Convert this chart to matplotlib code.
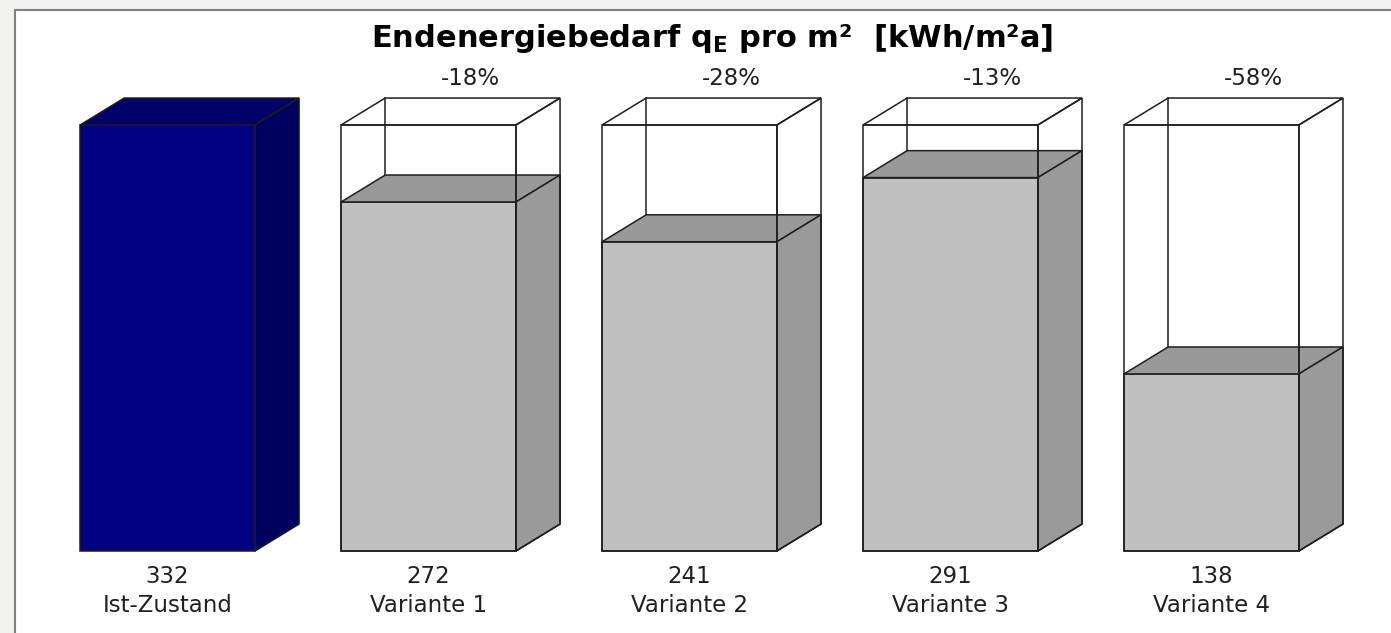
import matplotlib.pyplot as plt
from matplotlib.patches import Polygon, Rectangle

# Endenergiebedarf per variant [kWh/m²a]
categories = ['Ist-Zustand', 'Variante 1', 'Variante 2', 'Variante 3', 'Variante 4']
values = [332, 272, 241, 291, 138]
changes = ['', '-18%', '-28%', '-13%', '-58%']
reference = values[0]

BAR_W = 0.67
DX, DY = 0.169, 21.0   # pseudo-3D depth offset
EDGE = '#1e1e1e'

fig = plt.figure(figsize=(13.91, 6.33), dpi=100, facecolor='#f0f0ec')
fig.patches.append(Rectangle((15 / 1391, -0.1), 1.2, 1.1 - 10 / 633,
                             transform=fig.transFigure, facecolor='white',
                             edgecolor='#808080', lw=1.5, zorder=-1))

ax = fig.add_axes([0, 0, 1, 1])
ax.set_facecolor('none')
ax.set_xlim(-0.642, 4.688)
ax.set_ylim(-63.9, 429.4)
ax.axis('off')


def box_faces(x0, h):
    front = [(x0, 0), (x0 + BAR_W, 0), (x0 + BAR_W, h), (x0, h)]
    top = [(x0, h), (x0 + BAR_W, h), (x0 + BAR_W + DX, h + DY), (x0 + DX, h + DY)]
    side = [(x0 + BAR_W, 0), (x0 + BAR_W + DX, DY), (x0 + BAR_W + DX, h + DY), (x0 + BAR_W, h)]
    return front, top, side


for i, (name, val) in enumerate(zip(categories, values)):
    x0 = i - BAR_W / 2
    if i == 0:
        colors = ('#000080', '#000068', '#00005e')
    else:
        colors = ('#c0c0c0', '#999999', '#9a9a9a')
        # back-left edge of the reference box, hidden behind the filled bar
        ax.plot([x0 + DX, x0 + DX], [DY, reference + DY], color=EDGE, lw=1.1, zorder=1)

    for poly, c in zip(box_faces(x0, val), colors):
        ax.add_patch(Polygon(poly, closed=True, facecolor=c, edgecolor=EDGE,
                             lw=1.1, zorder=2))

    if i > 0:
        # outline of the reference (Ist-Zustand) height
        for poly in box_faces(x0, reference):
            ax.add_patch(Polygon(poly, closed=True, fill=False, edgecolor=EDGE,
                                 lw=1.1, zorder=3))
        ax.text(i + 0.16, 368.6, changes[i], ha='center', va='center',
                fontsize=16.5, color='#202020')

    ax.text(i, -19.5, str(val), ha='center', va='center', fontsize=16.5, color='#202020')
    ax.text(i, -42.3, name, ha='center', va='center', fontsize=16.5, color='#202020')

ax.text(2.086, 399.5, r'Endenergiebedarf q$_\mathregular{E}$ pro m²  [kWh/m²a]',
        ha='center', va='center', fontsize=22, fontweight='bold',
        family='DejaVu Sans', color='black')

fig.savefig('out.png', dpi=100, facecolor=fig.get_facecolor())
